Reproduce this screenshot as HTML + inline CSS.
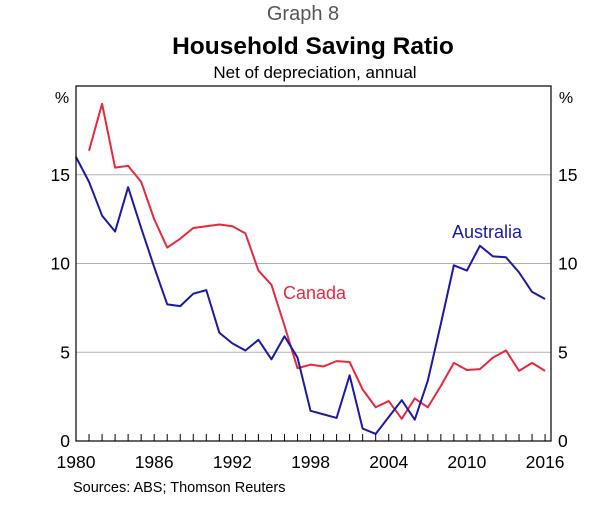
<!DOCTYPE html>
<html><head><meta charset="utf-8"><style>
body{margin:0;background:#fff;}
svg{display:block;font-family:"Liberation Sans",Arial,sans-serif;}
</style></head><body>
<svg id="chart" width="607" height="505">
<text x="303" y="20" text-anchor="middle" font-size="20" fill="#555">Graph 8</text>
<text x="313" y="54" text-anchor="middle" font-size="24.5" font-weight="bold">Household Saving Ratio</text>
<text x="315" y="78" text-anchor="middle" font-size="17">Net of depreciation, annual</text>
<text x="62" y="103" text-anchor="middle" font-size="16">%</text>
<text x="566" y="103" text-anchor="middle" font-size="16">%</text>
<text x="73" y="492" font-size="14.5">Sources:   ABS; Thomson Reuters</text>
<g id="grid"></g><g id="series"></g><g id="axes"></g>
<text x="452" y="238" font-size="18" fill="#1a1aa6">Australia</text>
<text x="283" y="299" font-size="18" fill="#e8283c">Canada</text>
</svg>
<script>
const yTicks=[0,5,10,15];
const xTickLabels=[1980,1986,1992,1998,2004,2010,2016];
const ausYears=[1980,1981,1982,1983,1984,1985,1986,1987,1988,1989,1990,1991,1992,1993,1994,1995,1996,1997,1998,1999,2000,2001,2002,2003,2004,2005,2006,2007,2008,2009,2010,2011,2012,2013,2014,2015,2016];
const ausValues=[16.0,14.6,12.7,11.8,14.3,12.0,9.8,7.7,7.6,8.3,8.5,6.1,5.5,5.1,5.7,4.6,5.9,4.7,1.7,1.5,1.3,3.7,0.7,0.4,1.35,2.3,1.2,3.4,6.6,9.9,9.6,11.0,10.4,10.35,9.5,8.4,8.0];
const canYears=[1981,1982,1983,1984,1985,1986,1987,1988,1989,1990,1991,1992,1993,1994,1995,1996,1997,1998,1999,2000,2001,2002,2003,2004,2005,2006,2007,2008,2009,2010,2011,2012,2013,2014,2015,2016];
const canValues=[16.35,19.0,15.4,15.5,14.6,12.5,10.9,11.4,12.0,12.1,12.2,12.1,11.7,9.6,8.8,6.5,4.1,4.3,4.2,4.5,4.45,2.9,1.9,2.25,1.25,2.4,1.9,3.1,4.4,4.0,4.05,4.7,5.1,3.95,4.4,3.95];
const L=76,R=551,T=86,B=441;
const x=yr=>L+(yr-1980)*13.03;
const y=v=>B-v*17.75;
const NS="http://www.w3.org/2000/svg";
function mk(tag,attrs,parent){const e=document.createElementNS(NS,tag);for(const k in attrs)e.setAttribute(k,attrs[k]);parent.appendChild(e);return e;}
const grid=document.getElementById('grid'),axes=document.getElementById('axes'),ser=document.getElementById('series');
yTicks.forEach(v=>{
 if(v>0){const g=mk('line',{x1:L,x2:R,y1:y(v),y2:y(v),stroke:'#b0b0b0','stroke-width':1},grid);
 
 }
 const tl=mk('text',{x:L-6,y:y(v)+6,'text-anchor':'end','font-size':17.5},axes);tl.textContent=v;
 
 
 const tr=mk('text',{x:R+7,y:y(v)+6,'text-anchor':'start','font-size':17.5},axes);tr.textContent=v;
 
 
});
const box=mk('rect',{x:L,y:T,width:R-L,height:B-T,fill:'none',stroke:'#000','stroke-width':1.2},axes);


for(let yr=1980;yr<=2016;yr++){
 const t=mk('line',{x1:x(yr),x2:x(yr),y1:B,y2:B-7,stroke:'#000','stroke-width':1},axes);
 
 
}
xTickLabels.forEach(yr=>{
 const t=mk('text',{x:x(yr),y:468,'text-anchor':'middle','font-size':17.5},axes);t.textContent=yr;
 
 
});
function line(yrs,vals,color,name){
 const p=mk('polyline',{points:yrs.map((yr,i)=>x(yr)+','+y(vals[i])).join(' '),fill:'none',stroke:color,'stroke-width':2,'stroke-linejoin':'round'},ser);
 
 
}
line(canYears,canValues,'#e8283c','canada-line');
line(ausYears,ausValues,'#1a1aa6','australia-line');
</script>
</body></html>
